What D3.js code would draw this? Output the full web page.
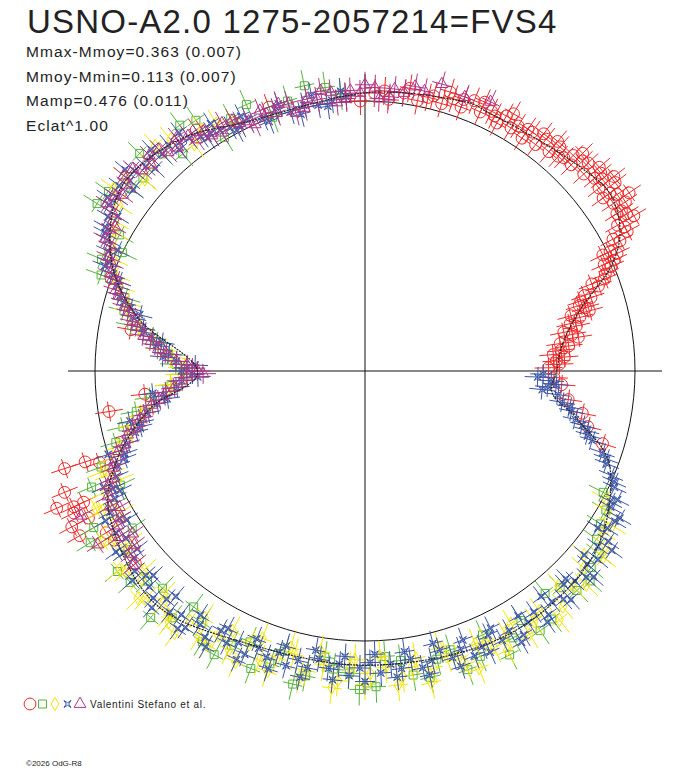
<!DOCTYPE html>
<html><head><meta charset="utf-8">
<script src="https://cdn.jsdelivr.net/npm/d3@7/dist/d3.min.js"></script>
<style>body{margin:0;background:#fff}svg{display:block}</style>
</head><body><svg id="c" width="688" height="768"></svg>
<script>
// [angle in degrees (counter-clockwise from east), radius in % of reference circle]
const fitCurve=[[0,71],[8,74],[16,83],[23,99],[29,108],[36,112],[43,110],[53,107],[64,106],[71,106],[90,103],[115,102],[129,110],[143,113],[156,103],[167,86],[180,62],[190,81],[200,98],[210,109],[227,116],[243,111],[270,109],[297,111],[320,109],[338,98],[347,81],[353,70]];
const redPts=[[2,72],[4,74],[5,70],[7,76],[8,73],[10,78],[11,75],[12,80],[14,82],[15,79],[16,85],[17,83],[18,88],[19,86],[20,92],[21,90],[22,96],[23,99],[24,97],[25,103],[26,101],[27,106],[28,104],[29,110],[30,108],[31,113],[32,110],[33,115],[34,111],[35,114],[36,112],[37,116],[38,110],[39,113],[40,111],[41,115],[42,109],[44,112],[45,108],[46,111],[48,107],[49,110],[50,106],[52,109],[53,105],[55,108],[56,104],[58,107],[59,105],[61,108],[62,104],[64,107],[66,105],[68,108],[70,104],[72,106],[74,103],[76,105],[79,102],[82,104],[85,101],[88,103],[91,100],[94,102],
[198,117],[198,109],[202,120],[204,125],[205,119],[205,115],[208,123],[208,116],[210,122],[212,113],[206,120],[189,96],[199,104],[160,100],[170,88]];
const redPts2=[[1,68],[3,71],[6,73],[9,80],[13,78],[15,86],[18,84],[21,95],[24,101],[26,98],[28,110],[30,115],[32,112],[34,118],[36,109],[38,117],[40,114],[43,113],[45,114],[47,108],[50,111],[53,110],[56,108],[60,110],[63,106],[66,109],[70,107],[73,108],[77,104],[81,106],[86,104],[358,70],[356,73],[352,76],[349,82],[346,85],[343,92],[186,82],[214,112],[220,111],[110,104],[125,109]];
const greenPts=[[95,103],[102,108],[110,100],[118,106],[124,112],[130,105],[136,116],[142,110],[148,117],[154,100],[160,104],[166,92],[172,78],[178,70],[184,72],[190,86],[196,96],[200,104],[205,100],[210,116],[214,104],[219,118],[224,112],[229,121],[234,108],[239,117],[244,113],[249,118],[254,108],[259,115],[264,111],[269,118],[274,106],[279,114],[284,110],[289,117],[294,107],[299,113],[304,116],[309,106],[314,113],[319,111],[324,106],[330,103]];
const greenPts2=[[98,106],[106,104],[114,108],[121,101],[127,114],[133,110],[139,109],[145,116],[151,104],[157,106],[163,93],[169,88],[175,73],[181,66],[187,80],[193,92],[203,110],[208,106],[212,120],[217,110],[222,117],[227,110],[232,116],[237,111],[242,119],[247,109],[252,114],[257,119],[262,107],[267,112],[272,117],[277,108],[282,116],[287,108],[292,114],[297,118],[302,109],[307,115],[312,108],[317,114],[322,110],[327,104],[333,99]];
const yellowPts=[[118,104],[124,108],[130,112],[136,110],[141,114],[146,110],[151,106],[156,102],[161,96],[166,90],[171,80],[176,72],[181,68],[186,74],[191,84],[195,90],[199,98],[202,102],[205,106],[208,110],[211,108],[214,113],[217,111],[220,115],[223,113],[226,117],[229,114],[232,118],[235,113],[238,116],[241,112],[244,115],[247,110],[250,114],[253,111],[256,108],[259,113],[262,110],[265,115],[268,107],[271,112],[274,110],[277,114],[280,108],[283,113],[286,110],[289,115],[292,109],[295,113],[298,111],[302,115],[306,110],[310,114],[314,111],[318,109],[322,112],[326,106],[330,104]];
const yellowPts2=[[121,107],[127,105],[133,114],[139,108],[144,115],[149,108],[154,104],[159,99],[164,92],[169,85],[174,76],[179,67],[184,72],[189,80],[193,88],[197,95],[201,104],[204,100],[207,112],[210,105],[213,116],[216,108],[219,117],[222,110],[225,119],[228,111],[231,116],[234,120],[237,109],[240,117],[243,108],[246,118],[249,106],[252,117],[255,106],[258,116],[261,105],[264,118],[267,110],[270,116],[273,106],[276,117],[279,111],[282,118],[285,106],[288,112],[291,118],[294,110],[297,116],[300,108],[304,112],[308,117],[312,107],[316,114],[320,106],[324,110],[328,108],[332,101]];
const bluePts=[[359,66],[357,69],[355,68],[353,72],[351,74],[349,78],[347,80],[345,85],[343,88],[341,93],[339,96],[337,99],[335,102],[333,105],[331,104],[329,108],[327,107],[325,110],[323,108],[321,111],[319,109],[317,112],[315,110],[313,108],[311,112],[309,110],[307,113],[305,109],[303,111],[301,114],[299,110],[297,112],[295,108],[293,111],[291,113],[289,109],[287,111],[285,107],[283,110],[281,112],[279,108],[277,111],[275,109],[273,112],[271,108],[269,110],[267,113],[265,109],[263,111],[261,108],[259,112],[257,110],[255,113],[253,109],[251,112],[249,110],[247,114],[245,111],[243,113],[241,110],[239,115],[237,112],[235,116],[233,113],[231,115],[229,112],[227,115],[225,113],[223,111],[221,113],[219,110],[217,112],[215,108],[213,110],[211,106],[209,108],[207,104],[205,103],[203,100],[201,98],[199,94],[197,92],[195,88],[193,85],[191,82],[189,78],[187,75],[185,70],[183,68],[181,64],[179,66],[177,70],[175,73],[173,78],[171,80],[169,84],[167,88],[165,90],[163,95],[161,97],[159,100],[157,103],[155,105],[153,107],[151,110],[149,111],[147,113],[145,112],[143,114],[141,112],[139,113],[137,111],[135,112],[133,110],[131,111],[129,109],[127,108],[125,106],[123,105],[121,104],[119,103],[117,102],[115,103],[112,101],[109,102],[106,100],[103,101],[100,100],[97,101],[94,102]];
const bluePts2=[[358,64],[356,71],[354,66],[350,77],[346,83],[344,86],[340,95],[336,101],[332,103],[330,109],[326,104],[324,113],[320,106],[318,114],[314,107],[312,114],[308,106],[306,115],[302,107],[300,116],[296,106],[294,114],[290,106],[288,115],[284,104],[282,115],[278,105],[276,114],[272,105],[270,115],[266,106],[264,115],[260,105],[258,116],[254,106],[252,116],[248,107],[246,117],[242,108],[240,118],[236,109],[234,118],[230,109],[228,118],[224,109],[222,116],[218,107],[216,114],[212,104],[210,111],[206,101],[204,106],[200,95],[198,100],[194,86],[192,89],[188,74],[186,79],[182,62],[180,68],[178,63],[176,75],[172,76],[170,83],[166,86],[164,93],[160,97],[158,104],[154,102],[152,109],[148,108],[146,115],[142,109],[140,116],[136,108],[134,114],[130,107],[128,112],[124,104],[122,108],[118,101],[116,105],[111,99],[108,104],[104,98],[101,104],[98,99],[95,104]];
const purplePts=[[65,110],[78,106],[82,104],[85,102],[88,105],[91,103],[94,101],[97,104],[100,102],[103,100],[106,103],[109,101],[112,104],[115,102],[118,105],[121,103],[124,107],[127,109],[130,108],[133,112],[136,110],[139,114],[142,112],[145,113],[148,110],[151,108],[154,105],[157,102],[160,98],[163,95],[166,90],[169,86],[172,80],[175,74],[178,66],[180,62],[182,66],[185,71],[188,77],[191,83],[194,88],[197,93],[200,99],[203,102],[206,106],[209,104],[212,108],[215,105],[218,110],[207,118]];
const purplePts2=[[70,108],[75,110],[80,107],[84,105],[87,101],[90,106],[93,104],[96,100],[99,105],[102,103],[105,99],[108,104],[111,102],[114,100],[117,103],[120,106],[123,104],[126,106],[129,111],[132,109],[135,113],[138,111],[141,115],[144,111],[147,114],[150,107],[153,108],[156,104],[159,101],[162,97],[165,92],[168,88],[171,83],[174,77],[177,70],[179,64],[181,60],[183,68],[186,74],[189,80],[192,85],[195,91],[198,96],[201,100],[204,104],[208,107],[211,106],[214,110],[217,107],[220,112],[213,118]];
const statLines=["Mmax-Mmoy=0.363 (0.007)","Mmoy-Mmin=0.113 (0.007)","Mamp=0.476 (0.011)","Eclat^1.00"];
const titleText="USNO-A2.0 1275-2057214=FVS4";
const legendText="Valentini Stefano et al.";
const copyText="\u00a92026 OdG-R8";

const svg=d3.select("#c");
const cx=365,cy=371;
const r=d3.scaleLinear().domain([0,100]).range([0,270]);
const ang=d3.scaleLinear().domain([0,360]).range([0,2*Math.PI]);
const px=d=>cx+r(d[1])*Math.cos(ang(d[0])), py=d=>cy-r(d[1])*Math.sin(ang(d[0]));

svg.append("circle").attr("cx",cx).attr("cy",cy).attr("r",r(100)).attr("fill","none").attr("stroke","#111").attr("stroke-width",1);
svg.append("line").attr("x1",cx-r(110)).attr("x2",cx+r(110)).attr("y1",cy).attr("y2",cy).attr("stroke","#111");
svg.append("line").attr("x1",cx).attr("x2",cx).attr("y1",cy-r(110)).attr("y2",cy+r(110)).attr("stroke","#111");

const starPath=s=>{const a=s,b=s*0.35;return `M${-a},${-a}L0,${-b}L${a},${-a}L${b},0L${a},${a}L0,${b}L${-a},${a}L${-b},0Z`;};
const series=[
 {pts:redPts.concat(redPts2),col:"#ee2a2a",shape:d3.symbol(d3.symbolCircle,110)(),len:14},
 {pts:greenPts.concat(greenPts2),col:"#55b43c",shape:d3.symbol(d3.symbolSquare,64)(),len:16},
 {pts:yellowPts.concat(yellowPts2),col:"#f5e600",shape:d3.symbol(d3.symbolDiamond,50)(),len:16},
 {pts:bluePts.concat(bluePts2),col:"#3a55a8",shape:starPath(3.5),len:13},
 {pts:purplePts.concat(purplePts2),col:"#b03585",shape:d3.symbol(d3.symbolTriangle,60)(),len:13}
];
series.forEach(s=>{
  const g=svg.append("g");
  s.pts.forEach(d=>{
    const x=px(d),y=py(d),t=ang(d[0]);
    const c=Math.cos(t),sn=-Math.sin(t),L=s.len;
    g.append("line").attr("x1",x-L*c).attr("y1",y-L*sn).attr("x2",x+L*c).attr("y2",y+L*sn).attr("stroke",s.col);
    g.append("line").attr("x1",x+10*sn).attr("y1",y-10*c).attr("x2",x-10*sn).attr("y2",y+10*c).attr("stroke",s.col);
    g.append("path").attr("d",s.shape).attr("transform",`translate(${x},${y})`).attr("fill","none").attr("stroke",s.col);
  });
});
const fit=d3.lineRadial().angle(d=>Math.PI/2-ang(d[0])).radius(d=>r(d[1])).curve(d3.curveCardinalClosed);
svg.append("path").attr("d",fit(fitCurve)).attr("transform",`translate(${cx},${cy})`).attr("fill","none").attr("stroke","#222").attr("stroke-width",1.2).attr("stroke-dasharray","2,1");

svg.append("text").attr("x",27).attr("y",33).attr("font-family","Liberation Sans, Arial").attr("font-size",33).attr("letter-spacing",1.2).attr("fill","#222").text(titleText);
svg.selectAll(".st").data(statLines).join("text").attr("x",26).attr("y",(d,i)=>57+i*24.6).attr("font-family","Liberation Sans, Arial").attr("font-size",15.5).attr("letter-spacing",1.1).attr("fill","#222").text(d=>d);
const lg=svg.append("g");
series.forEach((s,i)=>lg.append("path").attr("d",s.shape).attr("transform",`translate(${30+i*12.5},704)`).attr("fill","none").attr("stroke",s.col));
svg.append("text").attr("x",90).attr("y",708).attr("font-family","Liberation Sans, Arial").attr("font-size",10).attr("letter-spacing",0.7).attr("fill","#222").text(legendText);
svg.append("text").attr("x",26).attr("y",766).attr("font-family","Liberation Sans, Arial").attr("font-size",8).attr("fill","#222").text(copyText);
</script></body></html>
